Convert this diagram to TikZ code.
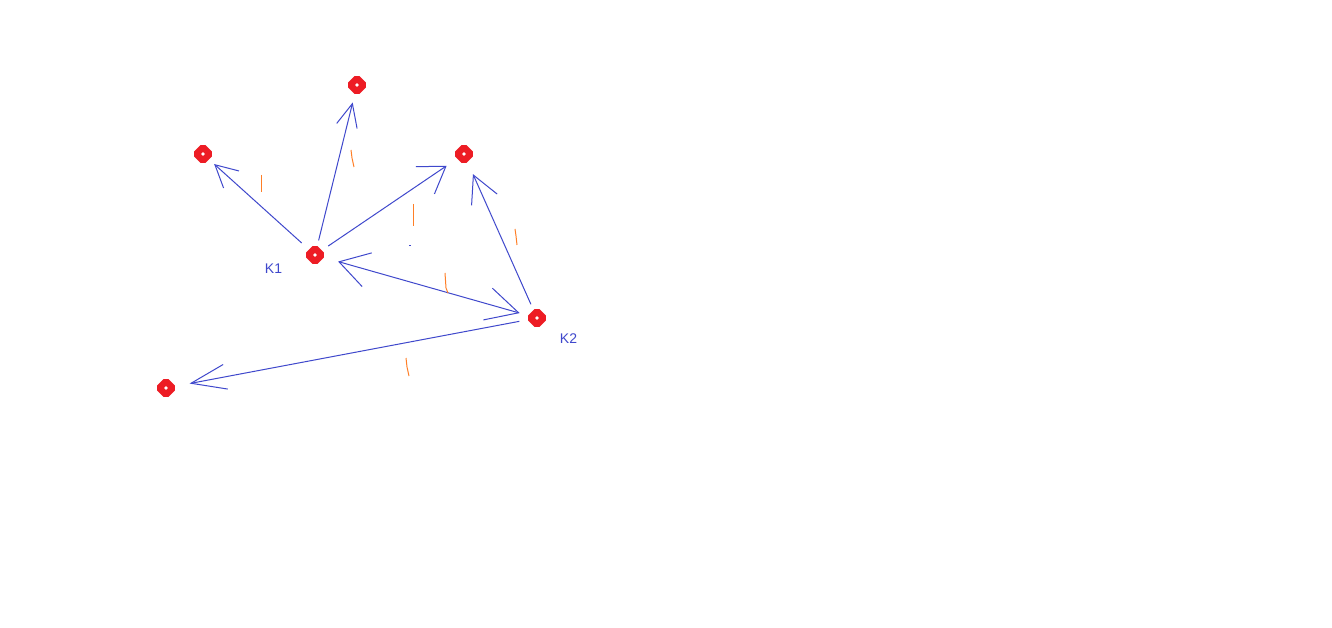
\documentclass[tikz,border=0pt]{standalone}
\usepackage{fontspec}
\setmainfont{Liberation Sans}
\usetikzlibrary{arrows.meta,positioning}
\definecolor{pointred}{RGB}{237,28,36}
\definecolor{pathblue}{RGB}{63,72,204}
\definecolor{markorange}{RGB}{255,127,39}
\tikzset{point node/.style={rectangle,rotate=45,rounded corners=1.5pt,draw=pointred,fill=white,line width=6.5pt,minimum size=9.5pt,inner sep=0pt},
  name node/.style={text=pathblue,font=\fontsize{14}{16}\selectfont,inner sep=0pt},
  link/.style={draw=pathblue,line width=1pt},
  stroke/.style={draw=markorange,line width=1pt},}

\begin{document}
\begin{tikzpicture}[x=1pt,y=1pt,on grid]
    \useasboundingbox[fill=white] (0,0) rectangle (1332,627);
    \node[point node] (k1) at (315,372) {};
    \node[point node] (a) [above left = 101pt and 112pt of k1] {};
    \node[point node] (b) [above right = 170pt and 42pt of k1] {};
    \node[point node] (c) [above right = 101pt and 149pt of k1] {};
    \node[point node] (k2) [below right = 63pt and 222pt of k1] {};
    \node[point node] (d) [below left = 70pt and 371pt of k2] {};
    \node[name node] (k1name) [below left = 13.5pt and 41.5pt of k1] {K1};
    \node[name node] (k2name) [below right = 20.5pt and 31.5pt of k2] {K2};

    \path[link]
	(k1.center) edge[shorten <=18pt, shorten >=15pt, -{Straight Barb[length=22pt,width=23pt]}] (a.center)
	(k1.center) edge[shorten <=15pt, shorten >=18pt, -{Straight Barb[length=23pt,width=21pt]}] (b.center)
	(k1.center) edge[shorten <=16pt, shorten >=21pt, -{Straight Barb[length=25pt,width=33pt]}] (c.center)
	(k2.center) edge[shorten <=15pt, shorten >=22pt, -{Straight Barb[length=27pt,width=28pt]}] (c.center)
	(k2.center) edge[shorten <=18pt, shorten >=24pt, {Straight Barb[length=32pt,width=33pt]}-{Straight Barb[length=29pt,width=35pt]}] (k1.center)
	(k2.center) edge[shorten <=18pt, shorten >=24pt, -{Straight Barb[length=35pt,width=25pt]}] (d.center);
    %%
    \fill[pathblue] (409,380.5) rectangle (411,381.5);
    \draw[stroke] (261,452) -- (261,435);
    \draw[stroke] (351,477) -- (352,469) -- (354,460);
    \draw[stroke] (413,423) -- (413,401);
    \draw[stroke] (515,398) -- (516,391) -- (517,382);
    \draw[stroke] (445,354) -- (446,339) -- (448,334);
    \draw[stroke] (406,269) -- (407,260) -- (409,251);
\end{tikzpicture}
\end{document}
